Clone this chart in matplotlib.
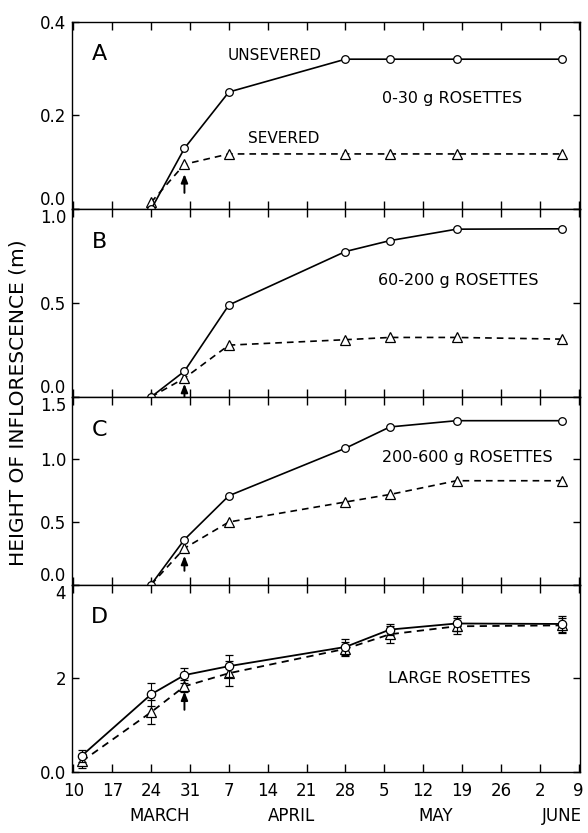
import numpy as np
import matplotlib
matplotlib.use("Agg")
import matplotlib.pyplot as plt

# days counted from March 10
days = [14, 20, 28, 49, 57, 69, 88]
days_d = [1.5, 14, 20, 28, 49, 57, 69, 88]

unsev_a = [0.0, 0.13, 0.25, 0.32, 0.32, 0.32, 0.32]
sev_a = [0.015, 0.096, 0.118, 0.118, 0.118, 0.118, 0.118]

unsev_b = [0.0, 0.137, 0.49, 0.775, 0.833, 0.894, 0.896]
sev_b = [0.0, 0.10, 0.276, 0.305, 0.317, 0.317, 0.308]

unsev_c = [0.0, 0.36, 0.71, 1.09, 1.26, 1.31, 1.31]
sev_c = [0.0, 0.29, 0.50, 0.66, 0.72, 0.83, 0.83]

unsev_d = [0.35, 1.66, 2.07, 2.26, 2.67, 3.04, 3.17, 3.16]
unsev_d_err = [0.13, 0.25, 0.16, 0.23, 0.17, 0.11, 0.16, 0.17]
sev_d = [0.23, 1.28, 1.83, 2.11, 2.63, 2.94, 3.11, 3.13]
sev_d_err = [0.15, 0.25, 0.13, 0.27, 0.15, 0.18, 0.17, 0.16]

# arrow (tail, tip) at day of severing
arrow_day = 20
arrows = [(0.035, 0.075), (0.0, 0.07), (0.11, 0.23), (1.33, 1.72)]

xtick_days = list(range(0, 92, 7))
xtick_labels = ['10', '17', '24', '31', '7', '14', '21', '28', '5', '12', '19', '26', '2', '9']
months = ['MARCH', 'APRIL', 'MAY', 'JUNE']
month_days = [15.6, 39.3, 65.3, 88.0]

panels = [
    ('A', unsev_a, sev_a, [0.0, 0.2, 0.4], ['0.0', '0.2', '0.4'], (0, 0.4), '0-30 g ROSETTES', (0.748, 0.593)),
    ('B', unsev_b, sev_b, [0.0, 0.5, 1.0], ['0.0', '0.5', '1.0'], (0, 1.0), '60-200 g ROSETTES', (0.760, 0.62)),
    ('C', unsev_c, sev_c, [0.0, 0.5, 1.0, 1.5], ['0.0', '0.5', '1.0', '1.5'], (0, 1.5), '200-600 g ROSETTES', (0.778, 0.678)),
    ('D', unsev_d, sev_d, [0, 2, 4], ['0.0', '2', '4'], (0, 4), 'LARGE ROSETTES', (0.762, 0.50)),
]

plt.rcParams['font.family'] = ['DejaVu Sans']
fig, axes = plt.subplots(4, 1, figsize=(5.88, 8.33), dpi=100, sharex=True,
                         gridspec_kw=dict(hspace=0))
fig.subplots_adjust(left=0.122, right=0.986, top=0.974, bottom=0.073)

for i, (ax, (lab, uns, sev, yt, ytl, ylim, desc, dpos)) in enumerate(zip(axes, panels)):
    x = days_d if lab == 'D' else days
    if lab == 'D':
        ax.errorbar(x, uns, yerr=unsev_d_err, color='black', lw=1.3, marker='o', ms=6,
                    mfc='white', mec='black', mew=0.9, capsize=3, elinewidth=0.8, capthick=0.8, zorder=3)
        ax.errorbar(x, sev, yerr=sev_d_err, color='black', lw=1.3, ls=(0, (4, 3)), marker='^', ms=7,
                    mfc='white', mec='black', mew=0.9, capsize=3, elinewidth=0.8, capthick=0.8, zorder=2)
    else:
        ax.plot(x, uns, color='black', lw=1.2, marker='o', ms=5.5, mfc='white', mec='black', mew=0.9, zorder=3)
        ax.plot(x, sev, color='black', lw=1.2, ls=(0, (4, 3)), marker='^', ms=7, mfc='white',
                mec='black', mew=0.9, zorder=2)
    tail, tip = arrows[i]
    ax.annotate('', xy=(arrow_day, tip), xytext=(arrow_day, tail),
                arrowprops=dict(arrowstyle='-|>,head_length=0.5,head_width=0.2', color='black',
                                lw=1.4, shrinkA=0, shrinkB=0, mutation_scale=10))
    ax.set_ylim(*ylim)
    ax.set_yticks(yt)
    ax.set_yticklabels(ytl)
    ax.set_xlim(-0.3, 91.2)
    ax.set_xticks(xtick_days)
    ax.tick_params(direction='in', length=5, width=1, top=True, right=True, labelsize=12, pad=4)
    ax.tick_params(axis='x', length=6)
    for s in ax.spines.values():
        s.set_linewidth(1.0)
    # keep labels at shared boundaries apart
    ylabs = ax.get_yticklabels()
    if i < 3:
        ylabs[0].set_va('bottom')
    if i > 0:
        ylabs[-1].set_va('top')
    ax.text(0.055, 0.825, lab, transform=ax.transAxes, fontsize=16, ha='center', va='center')
    ax.text(dpos[0], dpos[1], desc, transform=ax.transAxes, fontsize=11.5, ha='center', va='center')

axes[0].text(0.400, 0.82, 'UNSEVERED', transform=axes[0].transAxes, fontsize=11, ha='center', va='center')
axes[0].text(0.418, 0.375, 'SEVERED', transform=axes[0].transAxes, fontsize=11, ha='center', va='center')

axes[-1].set_xticklabels(xtick_labels)
axes[-1].tick_params(axis='x', pad=7)
for m, d in zip(months, month_days):
    axes[-1].text(d, -0.235, m, transform=axes[-1].get_xaxis_transform(), fontsize=12,
                  ha='center', va='center')

fig.text(0.031, 0.516, 'HEIGHT OF INFLORESCENCE (m)', rotation=90, fontsize=14.5,
         ha='center', va='center')

fig.savefig('out.png', dpi=100)
